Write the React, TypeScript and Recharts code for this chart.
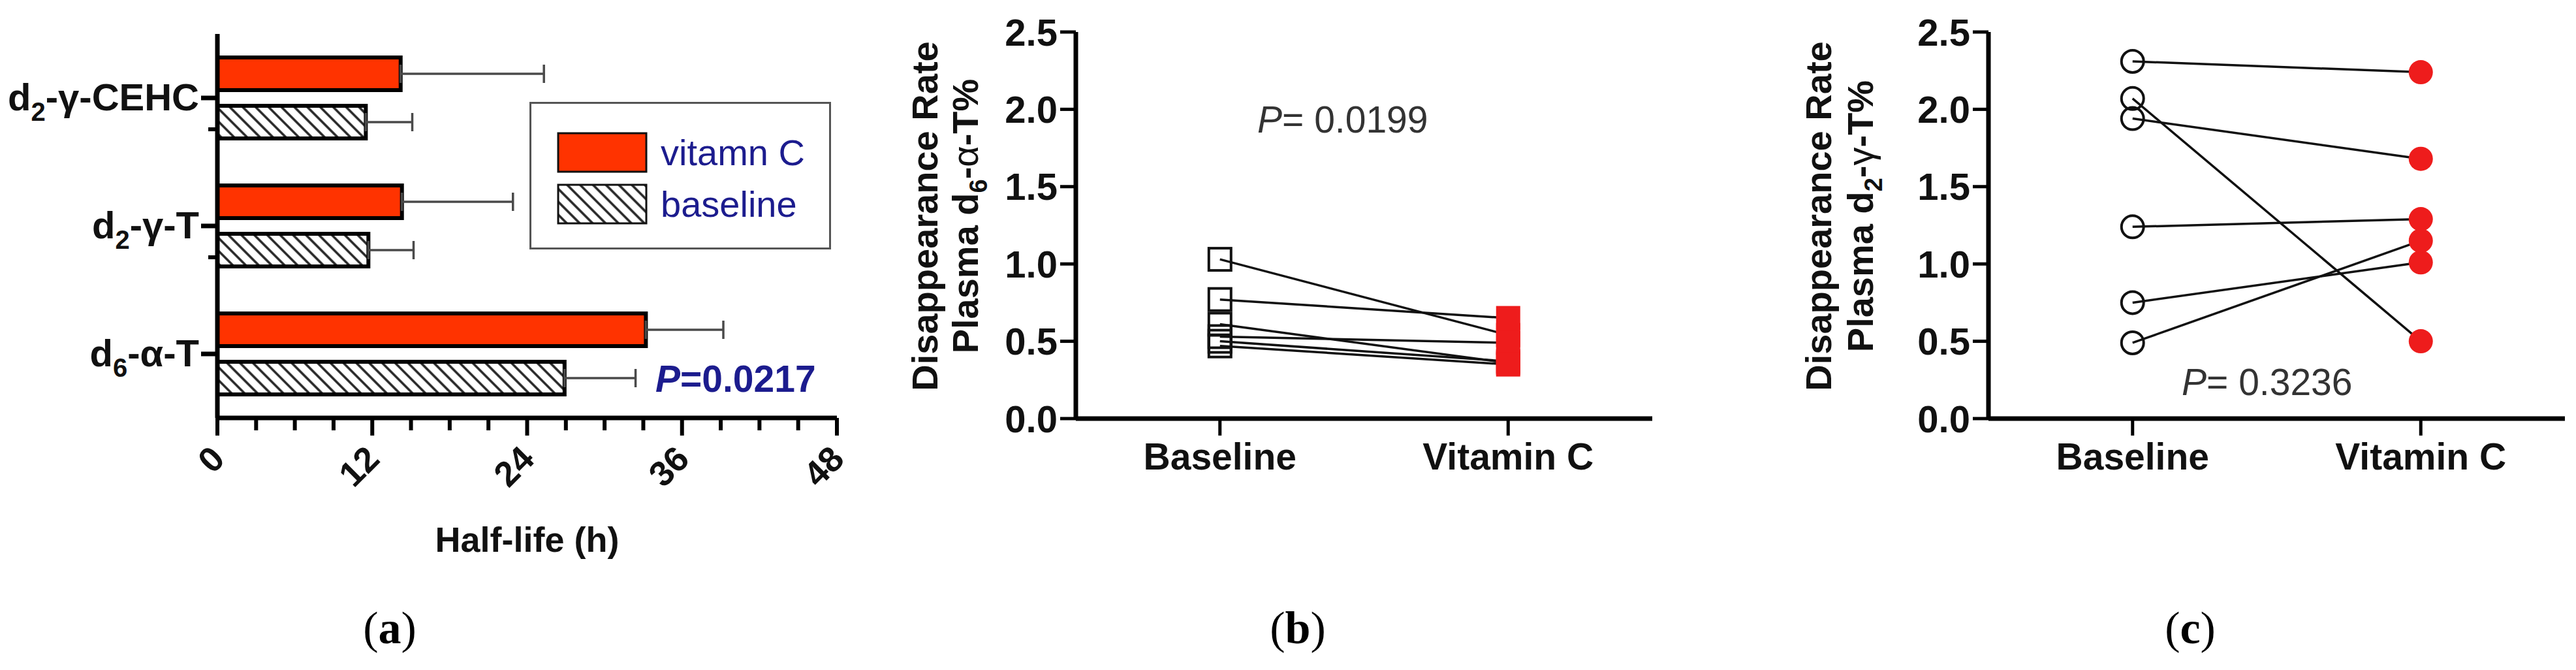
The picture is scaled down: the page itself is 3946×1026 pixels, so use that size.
import React from 'react';
import { BarChart, Bar, XAxis, YAxis, ErrorBar, Legend, LineChart, Line } from 'recharts';

// ---- Panel (a): half-life of tracers ----
const categories = ['d2-γ-CEHC', 'd2-γ-T', 'd6-α-T'];
const seriesNames = ['vitamn C', 'baseline'];
const vitaminCHalfLife = [14.2, 14.3, 33.2];
const vitaminCError = [11.1, 8.6, 6.0];
const baselineHalfLife = [11.5, 11.7, 26.9];
const baselineError = [3.6, 3.5, 5.5];
const halfLifeTicks = [0, 3, 6, 9, 12, 15, 18, 21, 24, 27, 30, 33, 36, 39, 42, 45, 48];

// ---- Panels (b) and (c): paired disappearance rates ----
const groups = ['Baseline', 'Vitamin C'];
const alphaBaseline = [1.03, 0.77, 0.61, 0.53, 0.5, 0.47];
const alphaVitaminC = [0.54, 0.65, 0.36, 0.49, 0.37, 0.35];
const gammaBaseline = [2.31, 2.07, 1.94, 1.24, 0.75, 0.49];
const gammaVitaminC = [2.24, 0.5, 1.68, 1.29, 1.01, 1.15];
const rateTicks = [0, 0.5, 1, 1.5, 2, 2.5];

const SANS = '"Liberation Sans", Arial, Helvetica, sans-serif';
const SERIF = '"Liberation Serif", "DejaVu Serif", "Times New Roman", serif';
const RED_BAR = '#ff3300';
const RED_DOT = '#ee1c1c';
const NAVY = '#1c1c8e';

const barData = categories.map((name, i) => ({
  name,
  vitC: vitaminCHalfLife[i],
  vitCErr: [0, vitaminCError[i]],
  base: baselineHalfLife[i],
  baseErr: [0, baselineError[i]],
}));

const subjectKeys = alphaBaseline.map((_, i) => `s${i + 1}`);

function pairedRows(before: number[], after: number[]) {
  return groups.map((group, gi) => {
    const row: Record<string, number | string> = { group };
    subjectKeys.forEach((k, s) => {
      row[k] = gi === 0 ? before[s] : after[s];
    });
    return row;
  });
}

const alphaData = pairedRows(alphaBaseline, alphaVitaminC);
const gammaData = pairedRows(gammaBaseline, gammaVitaminC);

// label like "d2-γ-T" -> d, subscript 2, "-γ-T"
function splitTracer(label: string) {
  const m = label.match(/^(d)(\d)(.*)$/);
  return m ? [m[1], m[2], m[3]] : [label, '', ''];
}

const CategoryTick = (props: any) => {
  const { x, y, payload, index } = props;
  const [head, sub, tail] = splitTracer(String(payload.value));
  return (
    <g>
      <line x1={x - 25} y1={y} x2={x} y2={y} stroke="#000" strokeWidth={7} />
      {index < 2 && <line x1={x - 14} y1={y + 48} x2={x} y2={y + 48} stroke="#000" strokeWidth={6} />}
      <text x={x - 28} y={y + 19} textAnchor="end" fontFamily={SANS} fontWeight={700} fontSize={58} fill="#111">
        {head}
        <tspan fontSize={40} dy={16}>{sub}</tspan>
        <tspan dy={-16}>{tail}</tspan>
      </text>
    </g>
  );
};

const HourTick = (props: any) => {
  const { x, y, payload } = props;
  const v = Number(payload.value);
  const major = v % 12 === 0;
  const ax = x + 14;
  const ay = y + 66;
  return (
    <g>
      <line x1={x} y1={y} x2={x} y2={y + (major ? 27 : 19)} stroke="#000" strokeWidth={6} />
      {major && (
        <text
          x={ax}
          y={ay}
          textAnchor="end"
          transform={`rotate(-45 ${ax} ${ay})`}
          fontFamily={SANS}
          fontWeight={700}
          fontSize={54}
          fill="#111"
        >
          {v}
        </text>
      )}
    </g>
  );
};

const HalfLifeLegend = (props: any) => {
  const items = [...(props.payload || [])].sort(
    (a: any, b: any) => seriesNames.indexOf(a.value) - seriesNames.indexOf(b.value)
  );
  return (
    <svg width={462} height={226} style={{ display: 'block' }}>
      <defs>
        <pattern id="hatchLegend" patternUnits="userSpaceOnUse" width={14} height={14} patternTransform="rotate(-45)">
          <rect width={14} height={14} fill="#fff" />
          <line x1={7} y1={0} x2={7} y2={14} stroke="#222" strokeWidth={3.5} />
        </pattern>
      </defs>
      <rect x={1.5} y={1.5} width={459} height={223} fill="#fff" stroke="#555" strokeWidth={3} />
      {items.map((it: any, i: number) => {
        const raw = (it.payload && it.payload.fill) || it.color || '#000';
        const fill = String(raw).startsWith('url') ? 'url(#hatchLegend)' : raw;
        const top = 48 + i * 79;
        return (
          <g key={it.value}>
            <rect x={44} y={top} width={135} height={59} fill={fill} stroke="#111" strokeWidth={3} />
            <text x={201} y={top + 49} fontFamily={SANS} fontSize={56} fill={NAVY}>
              {it.value}
            </text>
          </g>
        );
      })}
    </svg>
  );
};

function HalfLifeChart() {
  return (
    <BarChart
      width={1330}
      height={1026}
      data={barData}
      layout="vertical"
      margin={{ top: 52, right: 48, left: 0, bottom: 0 }}
      barGap={24}
      barSize={50}
    >
      <defs>
        <pattern id="hatchBar" patternUnits="userSpaceOnUse" width={14} height={14} patternTransform="rotate(-45)">
          <rect width={14} height={14} fill="#fff" />
          <line x1={7} y1={0} x2={7} y2={14} stroke="#222" strokeWidth={3.5} />
        </pattern>
      </defs>
      <XAxis
        type="number"
        domain={[0, 48]}
        ticks={halfLifeTicks}
        interval={0}
        height={386}
        axisLine={{ stroke: '#000', strokeWidth: 7 }}
        tickLine={false}
        tickSize={0}
        tickMargin={0}
        tick={(p: any) => <HourTick {...p} />}
        label={{
          content: (p: any) => {
            const vb = p.viewBox;
            return (
              <text
                x={vb.x + vb.width / 2}
                y={vb.y + 205}
                textAnchor="middle"
                fontFamily={SANS}
                fontWeight={700}
                fontSize={54}
                fill="#111"
              >
                Half-life (h)
              </text>
            );
          },
        }}
      />
      <YAxis
        type="category"
        dataKey="name"
        width={333}
        interval={0}
        axisLine={{ stroke: '#000', strokeWidth: 7 }}
        tickLine={false}
        tickSize={0}
        tickMargin={0}
        tick={(p: any) => <CategoryTick {...p} />}
      />
      <Legend
        layout="horizontal"
        verticalAlign="middle"
        align="center"
        wrapperStyle={{ left: 811, top: 156, width: 462, height: 226 }}
        content={(p: any) => <HalfLifeLegend {...p} />}
      />
      <Bar dataKey="vitC" name={seriesNames[0]} fill={RED_BAR} stroke="#000" strokeWidth={6} isAnimationActive={false}>
        <ErrorBar dataKey="vitCErr" direction="x" width={14} stroke="#4a4a4a" strokeWidth={3.5} />
      </Bar>
      <Bar dataKey="base" name={seriesNames[1]} fill="url(#hatchBar)" stroke="#000" strokeWidth={6} isAnimationActive={false}>
        <ErrorBar dataKey="baseErr" direction="x" width={14} stroke="#4a4a4a" strokeWidth={3.5} />
      </Bar>
    </BarChart>
  );
}

type PairedProps = {
  data: Record<string, number | string>[];
  width: number;
  axisWidth: number;
  rightMargin: number;
  shape: 'square' | 'circle';
  greek: string;
  subscript: string;
  titleX: [number, number];
};

function PairedChart({ data, width, axisWidth, rightMargin, shape, greek, subscript, titleX }: PairedProps) {
  const plotWidth = width - axisWidth - rightMargin;
  const edgePad = plotWidth / 4;
  const marker = (p: any) => {
    const { cx, cy, index, key } = p;
    if (cx == null || cy == null) return <g key={key} />;
    const after = index === 1;
    if (shape === 'square') {
      return after ? (
        <rect key={key} x={cx - 18.5} y={cy - 18.5} width={37} height={37} fill={RED_DOT} />
      ) : (
        <rect key={key} x={cx - 17} y={cy - 17} width={34} height={34} fill="none" stroke="#111" strokeWidth={4} />
      );
    }
    return after ? (
      <circle key={key} cx={cx} cy={cy} r={18.5} fill={RED_DOT} />
    ) : (
      <circle key={key} cx={cx} cy={cy} r={17} fill="none" stroke="#111" strokeWidth={4} />
    );
  };

  return (
    <LineChart width={width} height={1026} data={data} margin={{ top: 49, right: rightMargin, left: 0, bottom: 0 }}>
      <XAxis
        dataKey="group"
        type="category"
        height={385}
        interval={0}
        padding={{ left: edgePad, right: edgePad }}
        axisLine={{ stroke: '#000', strokeWidth: 7 }}
        tickLine={{ stroke: '#000', strokeWidth: 5 }}
        tickSize={26}
        tickMargin={12}
        tick={{ fontSize: 57, fontWeight: 700, fill: '#111', fontFamily: SANS }}
      />
      <YAxis
        type="number"
        domain={[0, 2.5]}
        ticks={rateTicks}
        interval={0}
        width={axisWidth}
        tickFormatter={(v: number) => v.toFixed(1)}
        axisLine={{ stroke: '#000', strokeWidth: 7 }}
        tickLine={{ stroke: '#000', strokeWidth: 5 }}
        tickSize={24}
        tickMargin={4}
        tick={{ fontSize: 58, fontWeight: 700, fill: '#111', fontFamily: SANS }}
        label={{
          content: () => (
            <g fontFamily={SANS} fontWeight={700} fontSize={56} fill="#111">
              <text x={titleX[0]} y={331} textAnchor="middle" transform={`rotate(-90 ${titleX[0]} 331)`}>
                Disappearance Rate
              </text>
              <text x={titleX[1]} y={331} textAnchor="middle" transform={`rotate(-90 ${titleX[1]} 331)`}>
                Plasma d<tspan fontSize={38} dy={14}>{subscript}</tspan>
                <tspan dy={-14}>-</tspan>
                <tspan fontWeight={400}>{greek}</tspan>-T%
              </text>
            </g>
          ),
        }}
      />
      {subjectKeys.map((k) => (
        <Line
          key={`m-${k}`}
          dataKey={k}
          stroke="transparent"
          strokeWidth={0}
          dot={marker}
          activeDot={false}
          isAnimationActive={false}
          legendType="none"
        />
      ))}
      {subjectKeys.map((k) => (
        <Line
          key={`l-${k}`}
          dataKey={k}
          stroke="#111"
          strokeWidth={3.5}
          dot={false}
          activeDot={false}
          isAnimationActive={false}
          legendType="none"
        />
      ))}
    </LineChart>
  );
}

function Annotations() {
  return (
    <svg width={3946} height={1026} style={{ position: 'absolute', left: 0, top: 0, pointerEvents: 'none' }}>
      <text x={1004} y={600} fontFamily={SANS} fontWeight={700} fontSize={57} fill={NAVY}>
        <tspan fontStyle="italic">P</tspan>=0.0217
      </text>
      <text x={1926} y={203} fontFamily={SANS} fontSize={57} fill="#333">
        <tspan fontStyle="italic">P</tspan>= 0.0199
      </text>
      <text x={3342} y={605} fontFamily={SANS} fontSize={57} fill="#333">
        <tspan fontStyle="italic">P</tspan>= 0.3236
      </text>
      {[
        ['a', 597],
        ['b', 1988],
        ['c', 3355],
      ].map(([letter, cx]) => (
        <text key={String(letter)} x={Number(cx)} y={985} textAnchor="middle" fontFamily={SERIF} fontSize={70} fill="#000">
          (<tspan fontWeight={700}>{letter}</tspan>)
        </text>
      ))}
    </svg>
  );
}

export default function App() {
  return (
    <div style={{ position: 'absolute', left: 0, top: 0, width: 3946, height: 1026, background: '#fff', overflow: 'hidden' }}>
      <div style={{ position: 'absolute', left: 1300, top: 0 }}>
        <PairedChart
          data={alphaData}
          width={1300}
          axisWidth={348}
          rightMargin={69}
          shape="square"
          greek="α"
          subscript="6"
          titleX={[136, 198]}
        />
      </div>
      <div style={{ position: 'absolute', left: 2600, top: 0 }}>
        <PairedChart
          data={gammaData}
          width={1346}
          axisWidth={446}
          rightMargin={17}
          shape="circle"
          greek="γ"
          subscript="2"
          titleX={[205, 269]}
        />
      </div>
      <div style={{ position: 'absolute', left: 0, top: 0 }}>
        <HalfLifeChart />
      </div>
      <Annotations />
    </div>
  );
}
